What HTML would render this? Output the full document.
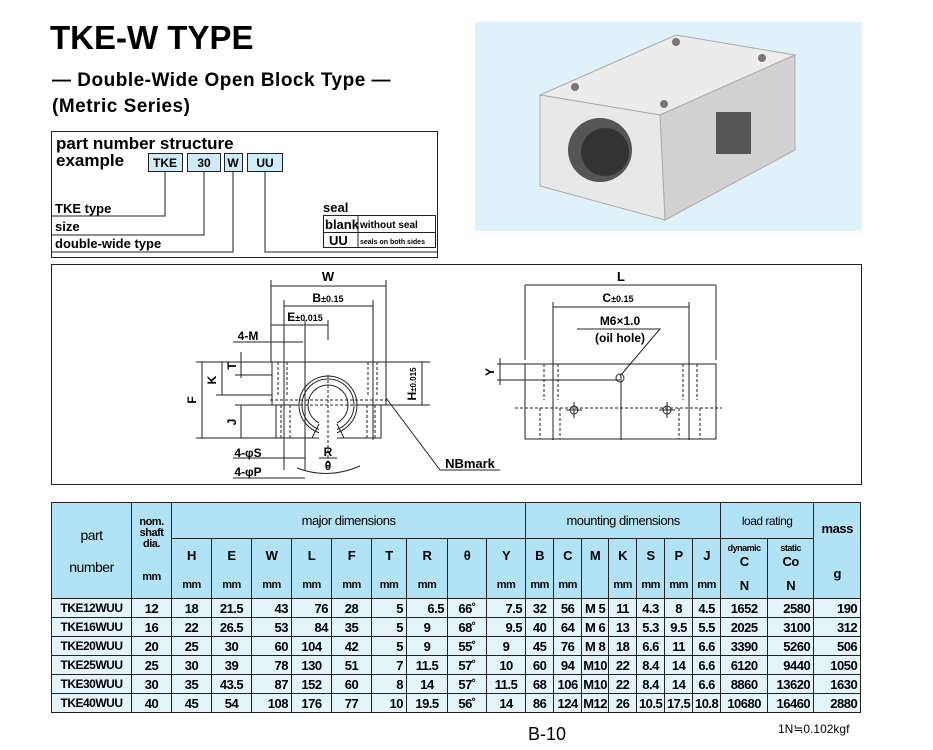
<!DOCTYPE html>
<html><head><meta charset="utf-8"><style>
body{margin:0;width:933px;height:750px;background:#fff;position:relative;font-family:"Liberation Sans",Arial,sans-serif;overflow:hidden}
.a{position:absolute;white-space:nowrap}
table{position:absolute;left:51px;top:502px;width:810px;border-collapse:collapse;table-layout:fixed;font-weight:bold;font-size:13px;letter-spacing:-0.5px}
td{border:1px solid #222;padding:0;text-align:center;vertical-align:middle;overflow:hidden}
thead td{background:#b2e2f6}
tbody td{background:#e4f4fb;height:18px;border-top:1px solid #222}
tbody td.r{text-align:right;padding-right:3px}
.nb{border-bottom:none}.nt{border-top:none}
</style></head><body>
<div class="a" style="left:50px;top:19px;font-size:33px;font-weight:bold;letter-spacing:0px">TKE-W TYPE</div>
<div class="a" style="left:52px;top:70px;font-size:19px;font-weight:bold;letter-spacing:0.5px">— Double-Wide Open Block Type —</div>
<div class="a" style="left:52px;top:96px;font-size:19px;font-weight:bold;letter-spacing:0.5px">(Metric Series)</div>

<svg class="a" style="left:0;top:0" width="933" height="750" font-family="Liberation Sans,Arial,sans-serif">
<!-- part number box -->
<rect x="51.5" y="131.5" width="386" height="126" fill="#fff" stroke="#222"/>
<g font-weight="bold">
<text x="56" y="149" font-size="17">part number structure</text>
<text x="56" y="166" font-size="17">example</text>
</g>
<g fill="#cfeaf8" stroke="#222"><rect x="148.5" y="153.5" width="34" height="18"/><rect x="187.5" y="153.5" width="33" height="18"/><rect x="224.5" y="153.5" width="18" height="18"/><rect x="247.5" y="153.5" width="35" height="18"/></g>
<g font-size="12" font-weight="bold" text-anchor="middle"><text x="165" y="167">TKE</text><text x="204" y="167">30</text><text x="233" y="167">W</text><text x="265" y="167">UU</text></g>
<g stroke="#222" fill="none"><polyline points="165,172 165,216 52,216"/><polyline points="204,172 204,235 52,235"/><polyline points="233,172 233,252 52,252"/><polyline points="265,172 265,252 437,252"/>
<rect x="323.5" y="215.5" width="112" height="17"/><rect x="323.5" y="232.5" width="112" height="15"/><line x1="358" y1="215" x2="358" y2="248"/></g>
<g font-size="13" font-weight="bold"><text x="55" y="213">TKE type</text><text x="55" y="231">size</text><text x="55" y="248">double-wide type</text><text x="323" y="212">seal</text>
<text x="325" y="229" font-size="13">blank</text><text x="360" y="228" font-size="10">without seal</text><text x="329" y="245">UU</text><text x="360" y="244" font-size="7">seals on both sides</text></g>

<!-- photo -->
<rect x="475" y="22" width="387" height="209" fill="#dff2fc"/>
<polygon points="540,95 676,35 795,55 660,115" fill="#ececec" stroke="#aaa"/>
<polygon points="660,115 795,55 795,150 665,220" fill="#d2d2d2" stroke="#aaa"/>
<polygon points="540,95 660,115 665,220 540,186" fill="#e8e8e8" stroke="#aaa"/>
<circle cx="600" cy="150" r="32" fill="#555"/><circle cx="605" cy="152" r="24" fill="#333"/>
<rect x="716" y="112" width="35" height="42" fill="#555"/>
<g fill="#777"><circle cx="575" cy="87" r="4"/><circle cx="676" cy="42" r="4"/><circle cx="762" cy="58" r="4"/><circle cx="664" cy="104" r="4"/></g>

<!-- drawing box -->
<rect x="51.5" y="264.5" width="810" height="220" fill="#fff" stroke="#222"/>
<g stroke="#222" fill="none" stroke-width="1">
<path d="M272,362 H386 V405 M272,362 V405 M272,405 H299 M358,405 H386"/>
<path d="M276,405 V438 H319 M337,438 H381 V405"/>
<circle cx="328" cy="405" r="29" fill="#fff"/>
<circle cx="328" cy="405" r="26"/>
<circle cx="328" cy="405" r="20" fill="#fff"/>
<rect x="319" y="420" width="18" height="20" fill="#fff" stroke="none"/>
<path d="M319,424 L312,438 M337,424 L344,438"/>
<g stroke-dasharray="3,2"><path d="M278,362 V395 M287,362 V395 M368,362 V395 M377,362 V395 M281,405 V438 M290,405 V438 M367,405 V438 M375,405 V438"/><path d="M300,405 H360 M328,375 V468 M270,400 H390"/></g>
<path d="M271,280 V362 M386,280 V362 M284,300 V470 M373,300 V440 M305,320 V470 M328,320 V340"/>
<path d="M271,286 H386 M284,306 H373 M271,325 H328 M233,342 H303"/>
<path d="M196,362 H272 M216,395 H272 M235,375 H272 M196,438 H276 M235,405 H272 M386,362 H430 M386,405 H430"/>
<path d="M202,362 V438 M222,362 V395 M241,352 V378 M241,405 V438 M422,362 V405"/>
<path d="M233,458 H305 M233,478 H305 M319,458 H337 M386,398 L440,470 H500"/>
<path d="M297,468 Q328,480 360,466"/>
<rect x="525" y="364" width="191" height="75"/>
<path d="M525,285 V360 M716,285 V360 M553,302 V440 M689,302 V440 M621,376 V440"/>
<path d="M525,285 H716 M553,307 H689 M577,329 H660 L620,376"/>
<path d="M497,364 H525 M497,380 H620 M500,358 V385"/>
<g stroke-dasharray="3,2"><path d="M515,408 H722 M544,364 V400 M558,364 V400 M683,364 V400 M697,364 V400 M540,408 V439 M560,408 V439 M679,408 V439 M700,408 V439"/></g>
<circle cx="620" cy="378" r="4"/><circle cx="574" cy="410" r="4"/><circle cx="667" cy="410" r="4"/>
<path d="M566,410 H582 M574,402 V418 M659,410 H675 M667,402 V418"/>
</g>
<g font-size="12" font-weight="bold" text-anchor="middle">
<text x="328" y="281" font-size="13">W</text><text x="328" y="302">B<tspan font-size="9">±0.15</tspan></text><text x="305" y="321">E<tspan font-size="9">±0.015</tspan></text>
<text x="248" y="340">4-M</text><text x="248" y="457">4-φS</text><text x="248" y="476">4-φP</text><text x="328" y="456">R</text><text x="328" y="470">θ</text>
<text x="470" y="468" font-size="13">NBmark</text>
<text x="621" y="281" font-size="13">L</text><text x="618" y="302">C<tspan font-size="9">±0.15</tspan></text>
<text x="620" y="325">M6×1.0</text><text x="620" y="342">(oil hole)</text>
<text transform="translate(196,400) rotate(-90)">F</text><text transform="translate(216,380) rotate(-90)">K</text><text transform="translate(236,366) rotate(-90)">T</text><text transform="translate(236,422) rotate(-90)">J</text>
<text transform="translate(416,384) rotate(-90)">H<tspan font-size="8">±0.015</tspan></text><text transform="translate(494,372) rotate(-90)">Y</text>
</g>
<text x="528" y="740" font-size="18">B-10</text>
<text x="778" y="733" font-size="12">1N≒0.102kgf</text>
</svg>

<table>
<colgroup><col style="width:80px"><col style="width:40px"><col style="width:40px"><col style="width:40px"><col style="width:40px"><col style="width:40px"><col style="width:40px"><col style="width:35px"><col style="width:41px"><col style="width:39px"><col style="width:39px"><col style="width:28px"><col style="width:28px"><col style="width:27px"><col style="width:28px"><col style="width:28px"><col style="width:28px"><col style="width:28px"><col style="width:47px"><col style="width:46px"><col style="width:47px"></colgroup>
<thead>
<tr style="height:36px"><td rowspan="3" style="font-size:14px;font-weight:normal">part<br><br>number</td><td rowspan="3" style="font-size:11px;line-height:11px;vertical-align:top;padding-top:14px">nom.<br>shaft<br>dia.<br><br><br>mm</td><td colspan="9" style="font-weight:normal;font-size:13px">major dimensions</td><td colspan="7" style="font-weight:normal">mounting dimensions</td><td colspan="2" style="font-weight:normal;font-size:12px">load rating</td><td rowspan="3" style="font-size:13px">mass<br><br><br>g</td></tr>
<tr style="height:34px"><td class="nb">H</td><td class="nb">E</td><td class="nb">W</td><td class="nb">L</td><td class="nb">F</td><td class="nb">T</td><td class="nb">R</td><td class="nb">θ</td><td class="nb">Y</td><td class="nb">B</td><td class="nb">C</td><td class="nb">M</td><td class="nb">K</td><td class="nb">S</td><td class="nb">P</td><td class="nb">J</td><td class="nb" style="font-size:9px;line-height:14px">dynamic<br><span style="font-size:13px">C</span></td><td class="nb" style="font-size:9px;line-height:14px">static<br><span style="font-size:13px">Co</span></td></tr>
<tr style="height:26px;font-size:11px"><td class="nt">mm</td><td class="nt">mm</td><td class="nt">mm</td><td class="nt">mm</td><td class="nt">mm</td><td class="nt">mm</td><td class="nt">mm</td><td class="nt"></td><td class="nt">mm</td><td class="nt">mm</td><td class="nt">mm</td><td class="nt"></td><td class="nt">mm</td><td class="nt">mm</td><td class="nt">mm</td><td class="nt">mm</td><td class="nt" style="font-size:13px">N</td><td class="nt" style="font-size:13px">N</td></tr>
</thead>
<tbody>
<tr><td style="font-size:12px">TKE12WUU</td><td>12</td><td>18</td><td>21.5</td><td class="r">43</td><td class="r">76</td><td>28</td><td class="r">5</td><td class="r">6.5</td><td>66˚</td><td class="r">7.5</td><td>32</td><td>56</td><td>M 5</td><td>11</td><td>4.3</td><td>8</td><td>4.5</td><td>1652</td><td class="r">2580</td><td class="r">190</td></tr>
<tr><td style="font-size:12px">TKE16WUU</td><td>16</td><td>22</td><td>26.5</td><td class="r">53</td><td class="r">84</td><td>35</td><td class="r">5</td><td>9</td><td>68˚</td><td class="r">9.5</td><td>40</td><td>64</td><td>M 6</td><td>13</td><td>5.3</td><td>9.5</td><td>5.5</td><td>2025</td><td class="r">3100</td><td class="r">312</td></tr>
<tr><td style="font-size:12px">TKE20WUU</td><td>20</td><td>25</td><td>30</td><td class="r">60</td><td>104</td><td>42</td><td class="r">5</td><td>9</td><td>55˚</td><td>9</td><td>45</td><td>76</td><td>M 8</td><td>18</td><td>6.6</td><td>11</td><td>6.6</td><td>3390</td><td class="r">5260</td><td class="r">506</td></tr>
<tr><td style="font-size:12px">TKE25WUU</td><td>25</td><td>30</td><td>39</td><td class="r">78</td><td>130</td><td>51</td><td class="r">7</td><td>11.5</td><td>57˚</td><td>10</td><td>60</td><td>94</td><td>M10</td><td>22</td><td>8.4</td><td>14</td><td>6.6</td><td>6120</td><td class="r">9440</td><td class="r">1050</td></tr>
<tr><td style="font-size:12px">TKE30WUU</td><td>30</td><td>35</td><td>43.5</td><td class="r">87</td><td>152</td><td>60</td><td class="r">8</td><td>14</td><td>57˚</td><td>11.5</td><td>68</td><td>106</td><td>M10</td><td>22</td><td>8.4</td><td>14</td><td>6.6</td><td>8860</td><td class="r">13620</td><td class="r">1630</td></tr>
<tr><td style="font-size:12px">TKE40WUU</td><td>40</td><td>45</td><td>54</td><td class="r">108</td><td>176</td><td>77</td><td class="r">10</td><td>19.5</td><td>56˚</td><td>14</td><td>86</td><td>124</td><td>M12</td><td>26</td><td>10.5</td><td>17.5</td><td>10.8</td><td>10680</td><td class="r">16460</td><td class="r">2880</td></tr>
</tbody></table>
</body></html>
